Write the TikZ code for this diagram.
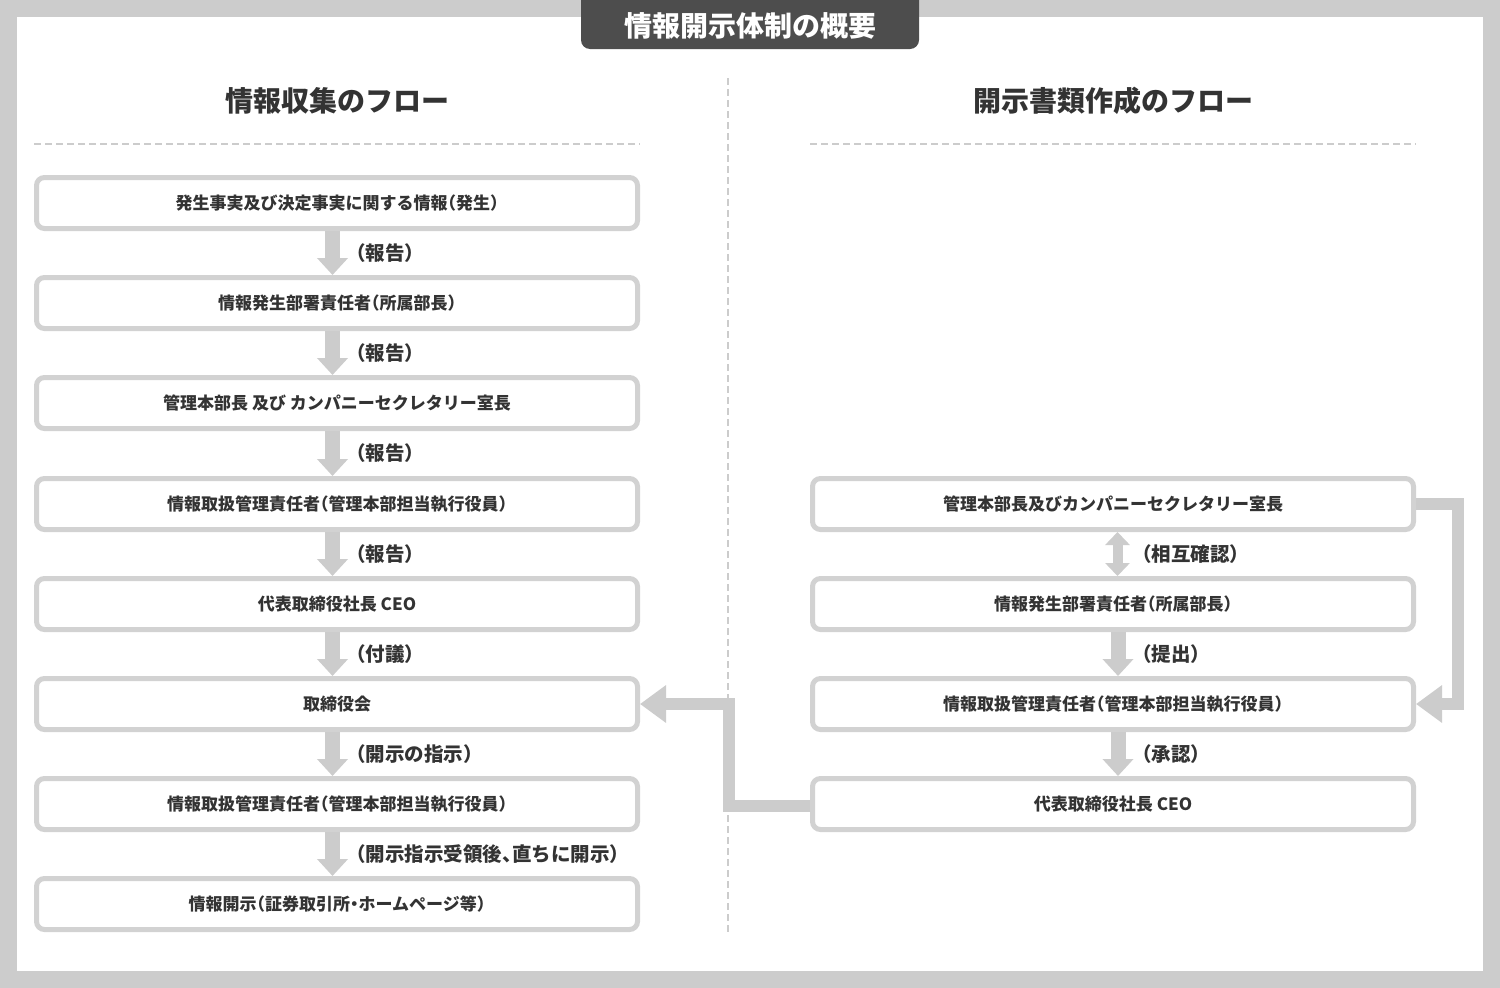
\documentclass[tikz,border=0pt]{standalone}
\usepackage{fontspec}
\newfontfamily\jp{Noto Sans CJK JP}[RawFeature=+halt]
\usetikzlibrary{arrows.meta}
\definecolor{bgc}{HTML}{CCCCCC}
\definecolor{tabc}{HTML}{4D4D4D}
\definecolor{txtc}{HTML}{333333}
\definecolor{bordc}{HTML}{D2D2D2}
\definecolor{arrc}{HTML}{CCCCCC}
\begin{document}
\begin{tikzpicture}[x=1pt,y=-1pt,
  flowbox/.style={draw=bordc, line width=5pt, rounded corners=8pt, fill=white,
    minimum width=601pt, minimum height=51pt, inner sep=0pt, text=txtc,
    font=\jp\bfseries\fontsize{17}{20}\selectfont},
  lab/.style={anchor=west, inner sep=0pt, text=txtc, font=\jp\bfseries\fontsize{19.5}{22}\selectfont},
  heading/.style={inner sep=0pt, text=txtc, font=\jp\bfseries\fontsize{28}{32}\selectfont},
  varrow/.style={draw=arrc, line width=15pt, -{Triangle[length=17pt,width=30pt]}},
  darrow/.style={draw=arrc, line width=10pt, {Triangle[length=13pt,width=24pt]}-{Triangle[length=13pt,width=24pt]}},
  harrow/.style={draw=arrc, line width=11.5pt, -{Triangle[length=26pt,width=36pt]}},
  dashline/.style={draw=arrc, line width=2.5pt, dash pattern=on 7pt off 4pt}
]
\fill[bgc] (0,0) rectangle (1500,988);
\useasboundingbox (0,0) rectangle (1500,988);
\fill[white] (17,17) rectangle (1483,971);
% title tab
\fill[tabc, rounded corners=9pt] (581,-20) rectangle (919,49);
\node[inner sep=0pt, text=white, font=\jp\bfseries\fontsize{28}{32}\selectfont] (title) at (750,25.5) {情報開示体制の概要};
% headings
\node[heading] (hl) at (337,100.5) {情報収集のフロー};
\node[heading] (hr) at (1113,100.5) {開示書類作成のフロー};
\draw[dashline] (34,144) -- (640,144);
\draw[dashline] (810,144) -- (1416,144);
\draw[dashline] (728,78) -- (728,935);
% left boxes
\node[flowbox] (L1) at (337,203) {発生事実及び決定事実に関する情報（発生）};
\node[flowbox] (L2) at (337,303) {情報発生部署責任者（所属部長）};
\node[flowbox] (L3) at (337,403) {管理本部長 及び カンパニーセクレタリー室長};
\node[flowbox] (L4) at (337,504) {情報取扱管理責任者（管理本部担当執行役員）};
\node[flowbox] (L5) at (337,604) {代表取締役社長 CEO};
\node[flowbox] (L6) at (337,704) {取締役会};
\node[flowbox] (L7) at (337,804) {情報取扱管理責任者（管理本部担当執行役員）};
\node[flowbox] (L8) at (337,904) {情報開示（証券取引所・ホームページ等）};
% right boxes
\node[flowbox] (R1) at (1113,504) {管理本部長及びカンパニーセクレタリー室長};
\node[flowbox] (R2) at (1113,604) {情報発生部署責任者（所属部長）};
\node[flowbox] (R3) at (1113,704) {情報取扱管理責任者（管理本部担当執行役員）};
\node[flowbox] (R4) at (1113,804) {代表取締役社長 CEO};
% left arrows
\foreach \a/\b in {L1/L2,L2/L3,L3/L4,L4/L5,L5/L6,L6/L7,L7/L8}
  \draw[varrow] ([xshift=-4.5pt]\a.south) -- ([xshift=-4.5pt]\b.north);
\node[lab] (t1) at (356,253.5) {（報告）};
\node[lab] (t2) at (356,353.5) {（報告）};
\node[lab] (t3) at (356,453.5) {（報告）};
\node[lab] (t4) at (356,554) {（報告）};
\node[lab] (t5) at (356,654) {（付議）};
\node[lab] (t6) at (356,754) {（開示の指示）};
\node[lab] (t7) at (356,854) {（開示指示受領後、直ちに開示）};
% right arrows
\draw[darrow] ([xshift=4.5pt]R1.south) -- ([xshift=4.5pt]R2.north);
\draw[varrow] ([xshift=5pt]R2.south) -- ([xshift=5pt]R3.north);
\draw[varrow] ([xshift=5pt]R3.south) -- ([xshift=5pt]R4.north);
\node[lab] (s1) at (1142,554) {（相互確認）};
\node[lab] (s2) at (1142,654) {（提出）};
\node[lab] (s3) at (1142,754) {（承認）};
% side connectors
\draw[harrow] (R1.east) -- ++(42,0) |- (R3.east);
\draw[harrow] ([yshift=-2pt]R4.west) -- ++(-81,0) |- (L6.east);
\end{tikzpicture}
\end{document}
